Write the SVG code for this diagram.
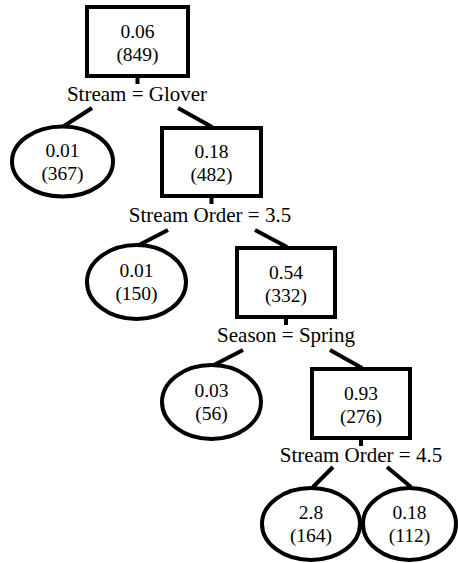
<svg xmlns="http://www.w3.org/2000/svg" width="458" height="563" viewBox="0 0 458 563">
  <style>
    .box { fill: #fff; stroke: #000; stroke-width: 4; }
    .leaf { fill: #fff; stroke: #000; stroke-width: 4; }
    .edge { stroke: #000; stroke-width: 4; fill: none; }
    text { font-family: 'Liberation Serif', 'DejaVu Serif', 'Noto Serif', Times, serif; text-anchor: middle; fill: #000; }
    .val { font-size: 19.5px; }
    .split { font-size: 21px; }
  </style>
  <rect width="458" height="563" fill="#fff"/>

  <!-- connectors -->
  <g id="connectors">
    <line class="edge" x1="137.5" y1="76" x2="137.5" y2="84"/>
    <line class="edge" x1="92" y1="108" x2="64" y2="126"/>
    <line class="edge" x1="178" y1="108" x2="212" y2="127"/>

    <line class="edge" x1="211.5" y1="196" x2="211.5" y2="204"/>
    <line class="edge" x1="168" y1="230" x2="137" y2="246"/>
    <line class="edge" x1="255" y1="230" x2="287" y2="247"/>

    <line class="edge" x1="286" y1="317" x2="286" y2="325"/>
    <line class="edge" x1="243" y1="350" x2="212" y2="366"/>
    <line class="edge" x1="330" y1="350" x2="362" y2="368"/>

    <line class="edge" x1="361" y1="438" x2="361" y2="446"/>
    <line class="edge" x1="333" y1="467" x2="313" y2="487"/>
    <line class="edge" x1="387" y1="467" x2="411" y2="487"/>
  </g>

  <!-- split nodes -->
  <g id="n1">
    <rect class="box" x="87" y="7" width="101" height="69"/>
    <text class="val" x="137.5" y="38">0.06</text>
    <text class="val" x="137.5" y="61">(849)</text>
    <text class="split" x="137" y="100.5">Stream = Glover</text>
  </g>
  <g id="n3">
    <rect class="box" x="162" y="128" width="99" height="68"/>
    <text class="val" x="211.5" y="158">0.18</text>
    <text class="val" x="211.5" y="181">(482)</text>
    <text class="split" x="210" y="221.5">Stream Order = 3.5</text>
  </g>
  <g id="n5">
    <rect class="box" x="237" y="248" width="98" height="69"/>
    <text class="val" x="286" y="279">0.54</text>
    <text class="val" x="286" y="302">(332)</text>
    <text class="split" x="286" y="341.5">Season = Spring</text>
  </g>
  <g id="n7">
    <rect class="box" x="312" y="369" width="98" height="69"/>
    <text class="val" x="361" y="400">0.93</text>
    <text class="val" x="361" y="423">(276)</text>
    <text class="split" x="361" y="462">Stream Order = 4.5</text>
  </g>

  <!-- leaves -->
  <g id="n2">
    <ellipse class="leaf" cx="62.5" cy="161.5" rx="50.5" ry="35"/>
    <text class="val" x="62.5" y="157">0.01</text>
    <text class="val" x="62.5" y="180">(367)</text>
  </g>
  <g id="n4">
    <ellipse class="leaf" cx="136.5" cy="282" rx="49.5" ry="37"/>
    <text class="val" x="136.5" y="277">0.01</text>
    <text class="val" x="136.5" y="300">(150)</text>
  </g>
  <g id="n6">
    <ellipse class="leaf" cx="211.5" cy="402" rx="49.5" ry="37"/>
    <text class="val" x="211.5" y="397">0.03</text>
    <text class="val" x="211.5" y="420">(56)</text>
  </g>
  <g id="n8">
    <ellipse class="leaf" cx="311" cy="524" rx="49" ry="36"/>
    <text class="val" x="311" y="519">2.8</text>
    <text class="val" x="311" y="542">(164)</text>
  </g>
  <g id="n9">
    <ellipse class="leaf" cx="409.5" cy="524" rx="46.5" ry="36"/>
    <text class="val" x="409.5" y="519">0.18</text>
    <text class="val" x="409.5" y="542">(112)</text>
  </g>
</svg>
